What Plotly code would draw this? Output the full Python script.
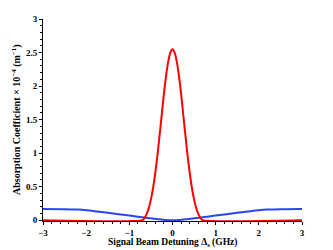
import plotly.graph_objects as go

# Signal beam detuning (GHz) and absorption coefficient (x1e-4 m^-1)
red_x = [-3.0, -0.7, -0.65, -0.6, -0.55, -0.5, -0.45, -0.4, -0.35, -0.3, -0.25, -0.2, -0.15, -0.1, -0.05, 0.0,
         0.05, 0.1, 0.15, 0.2, 0.25, 0.3, 0.35, 0.4, 0.45, 0.5, 0.55, 0.6, 0.65, 0.7, 3.0]
red_y = [0.0, 0.0, 0.03, 0.09, 0.18, 0.31, 0.48, 0.70, 0.96, 1.26, 1.57, 1.88, 2.15, 2.36, 2.50, 2.55,
         2.50, 2.36, 2.15, 1.88, 1.57, 1.26, 0.96, 0.70, 0.48, 0.31, 0.18, 0.09, 0.03, 0.0, 0.0]

blue_x = [-3.0, -2.5, -2.2, -2.0, -1.75, -1.5, -1.25, -1.0, -0.75, -0.5, -0.25, 0.0,
          0.25, 0.5, 0.75, 1.0, 1.25, 1.5, 1.75, 2.0, 2.2, 2.5, 3.0]
blue_y = [0.168, 0.165, 0.158, 0.148, 0.13, 0.11, 0.09, 0.07, 0.047, 0.028, 0.01, 0.0,
          0.01, 0.028, 0.047, 0.07, 0.09, 0.11, 0.13, 0.148, 0.158, 0.165, 0.168]

x_ticks = [-3, -2, -1, 0, 1, 2, 3]
y_ticks = [0, 0.5, 1, 1.5, 2, 2.5, 3]
y_ticklabels = ["0", "0.5", "1", "1.5", "2", "2.5", "3"]

FONT = "Liberation Serif"

fig = go.Figure()
fig.add_trace(go.Scatter(x=blue_x, y=blue_y, mode="lines", line=dict(color="#2a45f5", width=2, shape="spline"),
                         showlegend=False))
fig.add_trace(go.Scatter(x=red_x, y=red_y, mode="lines", line=dict(color="#ff0000", width=2, shape="spline", smoothing=0.6),
                         showlegend=False))

fig.update_layout(
    width=333, height=250,
    margin=dict(l=43, r=31, t=19, b=29),
    paper_bgcolor="white", plot_bgcolor="white",
    font=dict(family=FONT, color="black"),
    xaxis=dict(range=[-3, 3], tickvals=x_ticks, showline=True, linecolor="black", linewidth=1,
               ticks="outside", ticklen=3, tickcolor="black", showgrid=False, zeroline=False,
               tickfont=dict(family=FONT, size=9, color="black", weight="bold"),
               minor=dict(dtick=0.2, tick0=0, ticks="outside", ticklen=2, tickcolor="black", showgrid=False),
               layer="below traces"),
    yaxis=dict(range=[-0.012, 3.0], tickvals=y_ticks, ticktext=y_ticklabels, showline=True, linecolor="black",
               linewidth=1, ticks="outside", ticklen=3, tickcolor="black", showgrid=False, zeroline=False,
               tickfont=dict(family=FONT, size=9, color="black", weight="bold"),
               minor=dict(dtick=0.1, tick0=0, ticks="outside", ticklen=2, tickcolor="black", showgrid=False),
               layer="below traces"),
    annotations=[
        dict(text="Absorption Coefficient × 10<sup>−4</sup> (m<sup>−1</sup>)", textangle=-90,
             xref="paper", yref="paper", x=(16 - 43) / 259, y=0.5, xanchor="center", yanchor="middle",
             showarrow=False, font=dict(family=FONT, size=10, color="black", weight="bold")),
        dict(text="Signal Beam Detuning Δ<sub>s</sub> (GHz)",
             xref="paper", yref="paper", x=0.5, y=-(242 - 221) / 202, xanchor="center", yanchor="middle",
             showarrow=False, font=dict(family=FONT, size=9.5, color="black", weight="bold")),
    ],
)

fig.write_html("out.html", config={"displayModeBar": False},
               post_script="document.body.style.margin='0';document.body.style.padding='0';")
